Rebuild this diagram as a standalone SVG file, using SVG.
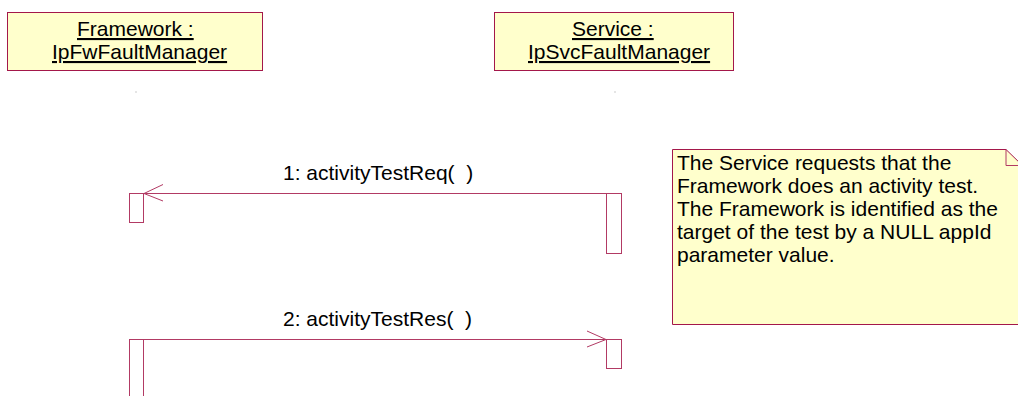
<svg xmlns="http://www.w3.org/2000/svg" width="1018" height="396" viewBox="0 0 1018 396">
<style>
.obj{fill:#FFFFCC;stroke:#A3174A;stroke-width:1}
.t{font-family:"Liberation Sans",Arial,sans-serif;font-size:21px;fill:#000}
.pre{white-space:pre}
.u{text-decoration:underline}
.ln{stroke:#b23a64;stroke-width:1;fill:none}
.act{fill:#fff;stroke:#b23a64;stroke-width:1}
.dot{fill:#999}
</style>
<rect width="1018" height="396" fill="#fff"/>
<g id="framework">
<rect class="obj" x="7.5" y="12.5" width="255" height="58"/>
<text class="t u" x="77" y="36">Framework :</text>
<text class="t u" x="52" y="59">IpFwFaultManager</text>
<rect class="dot" x="135.5" y="91.5" width="1" height="1"/>
</g>
<g id="service">
<rect class="obj" x="494.5" y="12.5" width="239" height="58"/>
<text class="t u" x="572" y="36">Service :</text>
<text class="t u" x="528" y="59">IpSvcFaultManager</text>
<rect class="dot" x="614.5" y="91.5" width="1" height="1"/>
</g>
<g id="activations">
<rect class="act" x="129.5" y="193.5" width="14" height="29"/>
<rect class="act" x="606.5" y="193.5" width="15" height="60"/>
<rect class="act" x="129.5" y="339.5" width="14" height="70"/>
<rect class="act" x="606.5" y="339.5" width="15" height="29"/>
</g>
<g id="note">
<path class="obj" d="M672.5,149.5 H1006 L1024,167 V324.5 H672.5 Z"/>
<path class="ln" d="M1006,149.5 V165.5 H1024" stroke="#A3174A"/>
<text class="t">
<tspan x="677" y="170">The Service requests that the</tspan>
<tspan x="677" y="193">Framework does an activity test.</tspan>
<tspan x="677" y="216">The Framework is identified as the</tspan>
<tspan x="677" y="239">target of the test by a NULL appId</tspan>
<tspan x="677" y="262">parameter value.</tspan>
</text>
</g>
<g id="connectors">
<g id="msg1">
<line class="ln" x1="144" y1="193.5" x2="606" y2="193.5"/>
<path class="ln" d="M163,184.5 L144,193.5 L163,201"/>
<text class="t pre" x="283" y="180">1: activityTestReq(  )</text>
</g>
<g id="msg2">
<line class="ln" x1="144" y1="339.5" x2="606" y2="339.5"/>
<path class="ln" d="M587,331 L606,339.5 L587,347"/>
<text class="t pre" x="283" y="326">2: activityTestRes(  )</text>
</g>
</g>
</svg>
